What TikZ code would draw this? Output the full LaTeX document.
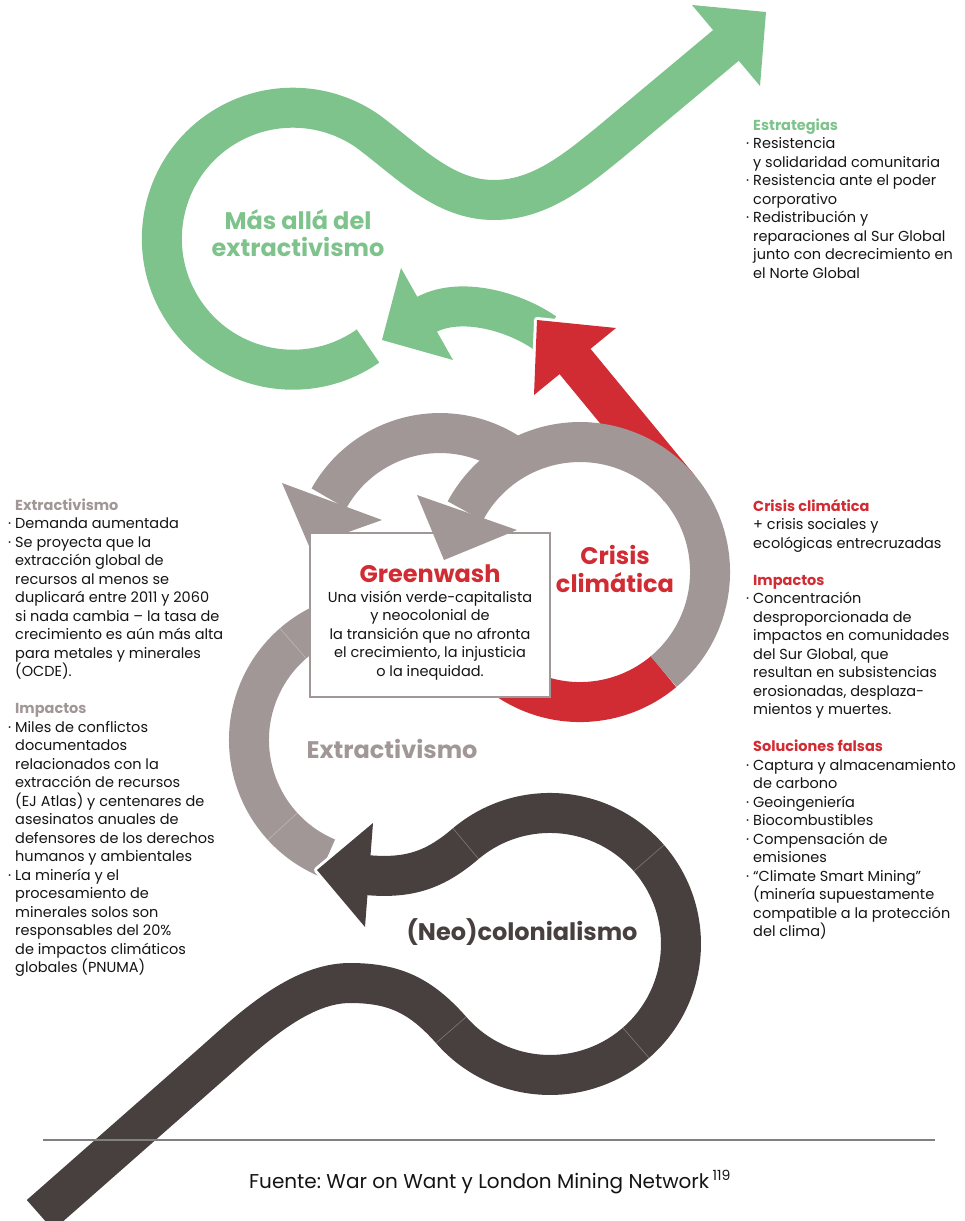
\documentclass[tikz,border=0pt]{standalone}
\usepackage{fontspec}
\setmainfont{Poppins}
\definecolor{leaf}{RGB}{126,195,140}
\definecolor{crimson}{RGB}{209,44,52}
\definecolor{ash}{RGB}{161,151,150}
\definecolor{soot}{RGB}{72,64,63}
\definecolor{ink}{RGB}{20,20,20}
\newcommand{\bul}{\llap{·\hspace{4pt}}}
\frenchspacing

\begin{document}
\begin{tikzpicture}[x=1pt, y=-1pt,
    band/.style={line width=40pt},
    halo/.style={draw=white, fill=white, line width=6pt, line join=round},
    seam/.style={white, opacity=0.3, line width=0.6pt},
    body/.style={font=\fontsize{14.5}{18.5}\selectfont, text=ink, align=left, inner sep=0pt, anchor=north west},
    title/.style={font=\fontsize{24}{25}\selectfont\bfseries, align=center, inner sep=0pt}]

\useasboundingbox (0,0) rectangle (964,1221);

% arrow heads
\coordinate (lfA) at (692,5);   \coordinate (lfT) at (766,12);  \coordinate (lfB) at (760,86);
\coordinate (sgA) at (401,268); \coordinate (sgB) at (453,360); \coordinate (sgT) at (382,340);
\coordinate (rdA) at (616,328); \coordinate (rdB) at (534,395); \coordinate (rdT) at (537,320);
\coordinate (gaA) at (282,483); \coordinate (gaB) at (382,520); \coordinate (gaT) at (309,546);
\coordinate (gbA) at (417,495); \coordinate (gbB) at (517,530); \coordinate (gbT) at (444,560);
\coordinate (dkA) at (373,823); \coordinate (dkB) at (365,927); \coordinate (dkT) at (317,870);

% green loop
\draw[band, leaf] (368,346) arc[start angle=55, end angle=305, radius=131]
    .. controls (409,162) and (444,200) .. (494,200)
    .. controls (540,200) and (576,170) .. (611,141.5) -- (730,42);
\fill[leaf] (lfA) -- (lfT) -- (lfB) -- cycle;

% small green arrow
\path[halo] (sgA) -- (sgB) -- (sgT) -- cycle;
\draw[band, leaf] (545,333) .. controls (512,310) and (457,296) .. (424,316);
\fill[leaf] (sgA) -- (sgB) -- (sgT) -- cycle;

% red arrow
\path[halo] (rdA) -- (rdB) -- (rdT) -- cycle;
\draw[band, crimson] (679.5,488.3) -- (573,359);
\fill[crimson] (rdA) -- (rdB) -- (rdT) -- cycle;
\draw[band, crimson] (452,594.6) arc[start angle=170, end angle=50, radius=130];

% grey loops
\draw[band, ash] (327,857.8) arc[start angle=113, end angle=265, radius=128];
\draw[band, ash] (512.8,456) arc[start angle=-55, end angle=-151, radius=127];
\fill[ash] (gaA) -- (gaB) -- (gaT) -- cycle;

\node[draw=ash, line width=2pt, fill=white, minimum width=240pt, minimum height=164pt, inner sep=0pt] (gwbox) at (430,615) {};

\draw[band, ash] (663.6,671.6) arc[start angle=50, end angle=-152, radius=130];
\fill[ash] (gbA) -- (gbB) -- (gbT) -- cycle;

% dark ribbon
\path[halo] (dkA) -- (dkB) -- (dkT) -- cycle;
\draw[band, soot] (40,1215) -- (215,1061) .. controls (252,1028) and (300,983) .. (350,983)
    .. controls (395,983) and (421,996) .. (451.1,1029.9)
    arc[start angle=139, end angle=-130, radius=131]
    .. controls (435,870) and (409,879) .. (366,875);
\fill[soot] (dkA) -- (dkB) -- (dkT) -- cycle;

% seams
\foreach \a in {139,49,-41,-130}
    \draw[seam, shift={(550,944)}] (\a:111) -- (\a:151);
\foreach \a in {137.5,229}
    \draw[seam, shift={(377,740)}] (\a:108) -- (\a:148);

% titles
\node[title, text=leaf, anchor=north] (beyond) at (298,209) {\strut Más allá del\\extractivismo};
\node[title, text=crimson, anchor=north] (crisis) at (615,545) {\strut Crisis\\climática};
\node[title, text=crimson, anchor=base] (gwtitle) at (430,582) {Greenwash};
\node[body, align=center, anchor=north] (gwtxt) at (430,589) {\strut Una visión verde-capitalista\\
    y neocolonial de\\ la transición que no afronta\\ el crecimiento, la injusticia\\ o la inequidad.};
\node[title, text=ash, anchor=base] (extitle) at (392,758) {Extractivismo};
\node[title, text=soot, anchor=base] (neotitle) at (522,940) {(Neo)colonialismo};

% side texts
\node[body] (strat) at (753,117) {\strut{\bfseries\color{leaf}Estrategias}\\
    \bul Resistencia\\
    y solidaridad comunitaria\\
    \bul Resistencia ante el poder\\
    corporativo\\
    \bul Redistribución y\\
    reparaciones al Sur Global\\
    junto con decrecimiento en\\
    el Norte Global};

\node[body] (extxt) at (15,497) {\strut{\bfseries\color{ash}Extractivismo}\\
    \bul Demanda aumentada\\
    \bul Se proyecta que la\\
    extracción global de\\
    recursos al menos se\\
    duplicará entre 2011 y 2060\\
    si nada cambia – la tasa de\\
    crecimiento es aún más alta\\
    para metales y minerales\\
    (OCDE).\\[18.5pt]
    {\bfseries\color{ash}Impactos}\\
    \bul Miles de conflictos\\
    documentados\\
    relacionados con la\\
    extracción de recursos\\
    (EJ Atlas) y centenares de\\
    asesinatos anuales de\\
    defensores de los derechos\\
    humanos y ambientales\\
    \bul La minería y el\\
    procesamiento de\\
    minerales solos son\\
    responsables del 20\%\\
    de impactos climáticos\\
    globales (PNUMA)};

\node[body] (crtxt) at (753,498) {\strut{\bfseries\color{crimson}Crisis climática}\\
    + crisis sociales y\\
    ecológicas entrecruzadas\\[18.5pt]
    {\bfseries\color{crimson}Impactos}\\
    \bul Concentración\\
    desproporcionada de\\
    impactos en comunidades\\
    del Sur Global, que\\
    resultan en subsistencias\\
    erosionadas, desplaza-\\
    mientos y muertes.\\[18.5pt]
    {\bfseries\color{crimson}Soluciones falsas}\\
    \bul Captura y almacenamiento\\
    de carbono\\
    \bul Geoingeniería\\
    \bul Biocombustibles\\
    \bul Compensación de\\
    emisiones\\
    \bul “Climate Smart Mining”\\
    (minería supuestamente\\
    compatible a la protección\\
    del clima)};

% source
\coordinate (ruleL) at (43,1140);
\coordinate (ruleR) at (935,1140);
\draw[gray, line width=1.2pt] (ruleL) -- (ruleR);
\node[font=\fontsize{20}{22}\selectfont, text=ink, anchor=base, inner sep=0pt] (source) at (490,1188)
    {Fuente: War on Want y London Mining Network\,\textsuperscript{119}};
\end{tikzpicture}
\end{document}
